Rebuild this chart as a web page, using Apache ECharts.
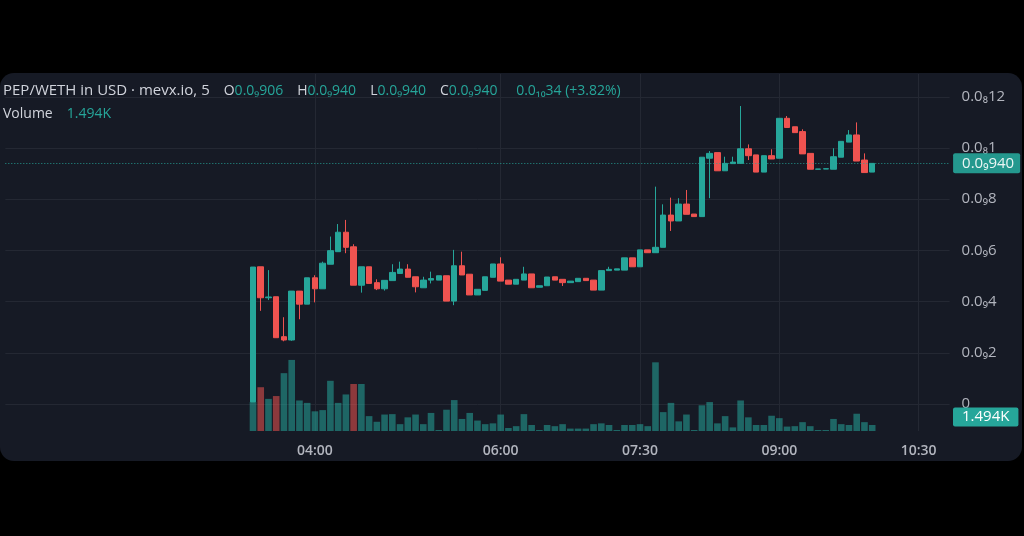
<!DOCTYPE html>
<html><head><meta charset="utf-8">
<script src="https://cdn.jsdelivr.net/npm/echarts@6/dist/echarts.min.js"></script>
<style>html,body{margin:0;padding:0;background:#000;}#c{width:1024px;height:536px;}</style>
</head><body><div id="c"></div>
<script>
// Prices below are in units of 1e-10 USD (0.0₉940 = 9.40e-10 -> 9.40)
const firstCandleTime = '03:20';   // 5-minute candles
const windowStart = '00:40';       // first slot of the visible time window
const windowSlots = 123;
const timeTickLabels = ['04:00', '06:00', '07:30', '09:00', '10:30'];
const priceTicks = [0, 2, 4, 6, 8, 10, 12];
const priceTickLabels = ['0', '0.0₉2', '0.0₉4', '0.0₉6', '0.0₉8', '0.0₈1', '0.0₈12'];

const opens = [0.08,5.36,4.15,4.19,2.63,2.50,4.41,3.90,4.93,4.50,
5.46,5.95,6.71,6.14,4.64,5.36,4.74,4.50,4.82,5.10,
5.27,4.97,4.54,4.84,4.84,5.01,4.02,5.40,5.07,4.26,
4.44,4.95,5.47,4.84,4.68,4.84,5.08,4.56,4.62,4.97,
4.87,4.74,4.78,4.91,4.84,4.45,5.21,5.23,5.23,5.71,
5.36,6.02,5.91,6.12,7.38,7.15,7.81,7.42,7.32,9.60,
9.82,9.11,9.39,9.40,9.97,9.73,9.06,9.70,9.60,11.16,
10.83,10.64,9.79,9.17,9.18,9.17,9.64,10.23,10.51,9.53,
9.06];
const closes = [5.35,4.15,4.18,2.59,2.50,4.41,3.90,4.93,4.50,5.50,
5.99,6.71,6.12,4.64,5.36,4.71,4.50,4.83,5.14,5.27,
4.95,4.58,4.84,4.90,5.01,4.02,5.40,5.04,4.26,4.48,
4.97,5.47,4.80,4.68,4.87,5.08,4.54,4.62,4.96,4.84,
4.74,4.80,4.91,4.82,4.45,5.21,5.26,5.28,5.71,5.36,
6.02,5.91,6.12,7.38,7.15,7.81,7.41,7.32,9.64,9.79,
9.11,9.40,9.45,9.97,9.70,9.06,9.70,9.57,11.16,10.80,
10.60,9.77,9.17,9.18,9.19,9.66,10.26,10.51,9.49,9.04,
9.40];
const lows = [0.08,3.64,4.06,2.59,2.45,2.47,3.31,3.90,3.97,4.50,
5.46,5.95,5.89,4.64,4.35,4.71,4.45,4.43,4.82,5.10,
4.95,4.36,4.54,4.71,4.84,4.02,3.86,5.04,4.26,4.26,
4.44,4.95,4.80,4.68,4.68,4.84,4.54,4.56,4.62,4.84,
4.61,4.74,4.78,4.82,4.45,4.45,5.21,5.23,5.23,5.36,
5.36,5.91,5.91,6.12,6.76,7.15,7.41,7.32,7.32,8.04,
9.11,9.11,9.39,9.40,9.53,9.06,9.06,9.57,9.60,10.80,
10.60,9.77,9.17,9.17,9.18,9.17,9.64,10.23,9.49,9.04,
9.06];
const highs = [5.35,5.36,5.23,4.19,3.39,4.41,4.41,4.93,5.03,5.56,
6.54,7.03,7.19,6.24,5.36,5.36,4.87,4.83,5.46,5.56,
5.46,4.97,4.97,5.17,5.01,5.01,6.02,5.95,5.07,4.48,
4.97,5.47,5.73,4.84,4.87,5.36,5.08,4.62,4.96,4.97,
4.87,4.80,4.91,4.91,4.84,5.21,5.36,5.28,5.71,5.71,
6.02,6.02,8.49,7.80,8.06,8.04,8.36,7.42,9.64,9.88,
9.82,9.66,9.66,11.64,10.14,9.73,9.70,9.95,11.16,11.25,
10.83,10.73,9.79,9.18,9.19,9.99,10.26,10.70,11.00,9.79,
9.40];
// volume in thousands (K)
const volumes = [7.2,10.9,8.0,8.7,14.4,17.7,7.6,7.0,4.9,5.2,
12.5,7.0,9.1,11.7,11.7,3.7,2.3,4.1,4.2,1.7,
3.4,4.1,1.7,4.5,0.25,5.3,7.7,3.0,4.5,2.6,
1.7,1.9,4.1,0.75,1.2,4.2,1.5,0.25,1.5,1.2,
1.7,0.6,0.6,0.6,1.7,1.9,1.5,0.25,1.5,1.5,
1.7,1.2,17.1,4.7,7.0,2.4,4.1,0.25,6.4,7.2,
1.9,3.7,0.9,7.6,3.4,1.5,1.5,3.8,3.2,1.1,
1.2,2.2,1.2,0.25,0.25,3.0,1.7,1.5,4.3,2.2,
1.494];
const volumeDownIndices = [1, 3, 13];
const lastPriceLabel = '0.0₉940';
const lastVolumeLabel = '1.494K';

const UP = '#26a69a', DOWN = '#ef5350';
const VOL_UP = 'rgba(38,166,154,0.55)', VOL_DOWN = 'rgba(239,83,80,0.55)';
const FONT = '"Open Sans", Roboto, sans-serif';

function toMin(t) { const p = t.split(':'); return (+p[0]) * 60 + (+p[1]); }
function fmtTime(m) { const h = Math.floor(m / 60), mm = m % 60; return (h < 10 ? '0' : '') + h + ':' + (mm < 10 ? '0' : '') + mm; }

const times = [];
for (let i = 0; i < windowSlots; i++) times.push(fmtTime(toMin(windowStart) + i * 5));
const offset = (toMin(firstCandleTime) - toMin(windowStart)) / 5;

const candleData = times.map(() => '-');
const volData = times.map(() => '-');
for (let i = 0; i < opens.length; i++) {
  candleData[offset + i] = [opens[i], closes[i], lows[i], highs[i]];
  volData[offset + i] = { value: volumes[i], itemStyle: { color: volumeDownIndices.indexOf(i) >= 0 ? VOL_DOWN : VOL_UP } };
}

const paneTop = 74, paneBottom = 431;
const priceZeroY = 404, pxPerUnit = 25.6;   // pixel scale
const pxPerVolK = 1 / 0.249;

const chart = echarts.init(document.getElementById('c'), null, { renderer: 'canvas' });
const showTick = (idx, val) => timeTickLabels.indexOf(val) >= 0;
const panelRect = {
  type: 'rect', z: -100, silent: true,
  shape: { x: 0, y: 73, width: 1022, height: 388, r: 14 },
  style: { fill: '#161a25' }
};
const hdr = (c, s) => ({ color: c, fontSize: s || 14, fontWeight: 'normal', fontFamily: FONT });

chart.setOption({
  backgroundColor: '#000',
  animation: false,
  textStyle: { fontFamily: FONT },
  graphic: [panelRect],
  title: [{
    left: 3, top: 82, padding: 0,
    text: '{t|PEP/WETH in USD · mevx.io, 5}   {a|O}{b|0.0₉906}   {a|H}{b|0.0₉940}   {a|L}{b|0.0₉940}   {a|C}{b|0.0₉940}    {b|0.0₁₀34 (+3.82%)}',
    textStyle: { fontWeight: 'normal', rich: { t: hdr('#d1d4dc', 15), a: hdr('#d1d4dc'), b: hdr(UP) } }
  }, {
    left: 3, top: 105, padding: 0,
    text: '{a|Volume}   {b|' + lastVolumeLabel + '}',
    textStyle: { fontWeight: 'normal', rich: { a: hdr('#d1d4dc'), b: hdr(UP) } }
  }],
  grid: { left: 5.32, right: 74.4, top: paneTop, bottom: 536 - paneBottom },
  xAxis: {
    type: 'category', data: times, boundaryGap: false,
    axisLine: { show: false }, axisTick: { show: false },
    axisLabel: { interval: showTick, color: '#b2b5be', fontSize: 14, fontWeight: 600, margin: 13, fontFamily: FONT },
    splitLine: { show: true, interval: showTick, lineStyle: { color: '#242833', width: 1 } }
  },
  yAxis: [{
    type: 'value', position: 'right', scale: false,
    min: (priceZeroY - paneBottom) / pxPerUnit,
    max: (priceZeroY - paneTop) / pxPerUnit,
    minInterval: 2, maxInterval: 2,
    axisLine: { show: false }, axisTick: { show: false },
    axisLabel: {
      color: '#b2b5be', fontSize: 15, margin: 12, fontFamily: FONT,
      showMinLabel: false, showMaxLabel: false,
      formatter: (v) => { const k = priceTicks.indexOf(Math.round(v * 1000) / 1000); return k >= 0 ? priceTickLabels[k] : ''; }
    },
    splitLine: { show: true, showMinLine: false, showMaxLine: false, lineStyle: { color: '#242833' } }
  }, {
    type: 'value', show: false, min: 0,
    max: (paneBottom - paneTop) / pxPerVolK,
    splitLine: { show: false }
  }],
  series: [{
    type: 'bar', name: 'Volume', xAxisIndex: 0, yAxisIndex: 1,
    data: volData, barWidth: 6.6, silent: true
  }, {
    type: 'candlestick', name: 'PEP/WETH', xAxisIndex: 0, yAxisIndex: 0,
    data: candleData, barWidth: 6,
    itemStyle: { color: UP, color0: DOWN, borderColor: UP, borderColor0: DOWN, borderWidth: 1 },
    markLine: {
      silent: true, symbol: 'none', animation: false,
      data: [{ yAxis: closes[closes.length - 1] }],
      lineStyle: { color: UP, type: [1, 2], width: 1, opacity: 0.9 },
      label: {
        show: true, position: 'end', distance: 3.5,
        formatter: lastPriceLabel,
        color: '#ffffff', fontSize: 15, fontFamily: FONT,
        backgroundColor: UP, borderRadius: 2, padding: [3, 6, 2, 9]
      }
    }
  }]
});

// Volume value tag on the right scale (clamped inside the pane, as the platform does)
const vy = chart.convertToPixel({ yAxisIndex: 1 }, volumes[volumes.length - 1]);
const tagH = 21;
const tagCenter = Math.min(vy, paneBottom - 13);
chart.setOption({
  graphic: [panelRect, {
    type: 'text', z: 100, silent: true,
    x: 953, y: tagCenter - tagH / 2,
    style: {
      text: lastVolumeLabel, fill: '#ffffff', font: '15px ' + FONT,
      backgroundColor: UP, borderRadius: 2, padding: [2, 9, 2, 9],
      verticalAlign: 'top'
    }
  }]
});
</script></body></html>
